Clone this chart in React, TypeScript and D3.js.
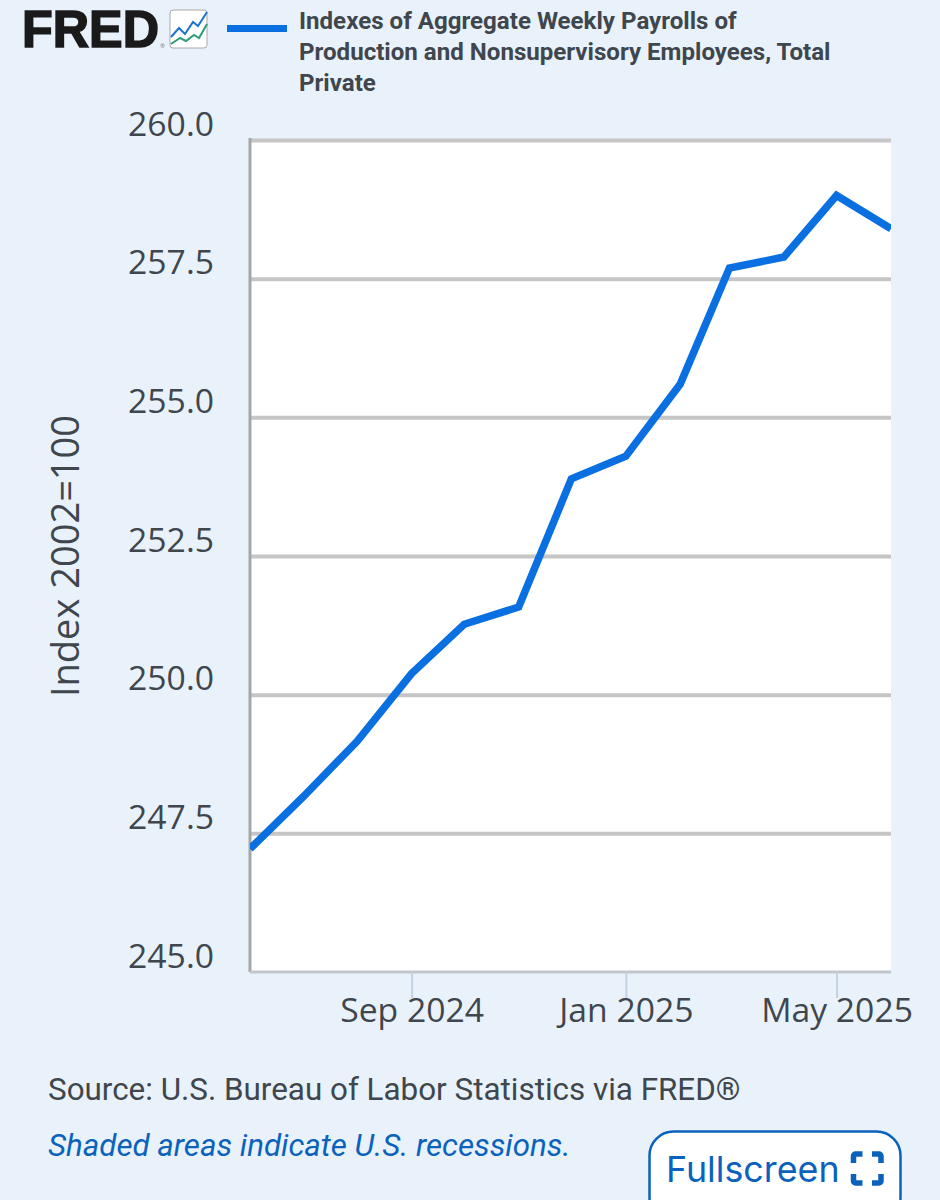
import React, { useRef, useEffect } from 'react';
import * as d3 from 'd3';

const months = [
  '2024-06-01', '2024-07-01', '2024-08-01', '2024-09-01', '2024-10-01', '2024-11-01', '2024-12-01',
  '2025-01-01', '2025-02-01', '2025-03-01', '2025-04-01', '2025-05-01', '2025-06-01',
];
const payrolls = [247.22, 248.15, 249.16, 250.38, 251.27, 251.58, 253.89, 254.3, 255.6, 257.69, 257.89, 259.0, 258.4];
const yTicks = [245, 247.5, 250, 252.5, 255, 257.5, 260];
const xTicks = ['2024-09-01', '2025-01-01', '2025-05-01'];
const legendLines = [
  'Indexes of Aggregate Weekly Payrolls of',
  'Production and Nonsupervisory Employees, Total',
  'Private',
];
// decorative logo icon lines
const iconBlue = [[1, 27], [9, 18], [15, 24], [23, 12], [28, 16], [37, 2]];
const iconGreen = [[1, 34], [10, 28], [16, 31], [24, 25], [29, 28], [37, 14]];

const parse = d3.utcParse('%Y-%m-%d');
const sans = '"Open Sans", sans-serif';
const roboto = 'Roboto, sans-serif';

const App: React.FC = () => {
  const svgRef = useRef<SVGSVGElement>(null);

  useEffect(() => {
    if (!svgRef.current) return;
    const svg = d3.select(svgRef.current);
    svg.selectAll('*').remove();

    const width = 940;
    const height = 1200;
    const margin = { top: 140, right: 49, bottom: 228, left: 250 };
    const innerWidth = width - margin.left - margin.right;
    const innerHeight = height - margin.top - margin.bottom;

    svg.append('rect').attr('width', width).attr('height', height).attr('fill', '#e9f2fa');

    const xScale = d3
      .scaleUtc()
      .domain([parse(months[0])!, parse(months[months.length - 1])!])
      .range([0, innerWidth]);
    const yScale = d3.scaleLinear().domain([245, 260]).range([innerHeight, 0]);

    // Logo
    svg
      .append('text')
      .attr('x', 22)
      .attr('y', 47)
      .attr('font-family', '"Liberation Sans", sans-serif')
      .attr('font-weight', 700)
      .attr('font-size', 51)
      .attr('textLength', 137)
      .attr('lengthAdjust', 'spacingAndGlyphs')
      .attr('fill', '#1a1a1a')
      .attr('stroke', '#1a1a1a')
      .attr('stroke-width', 1.6)
      .text('FRED');
    svg
      .append('text')
      .attr('x', 160)
      .attr('y', 48)
      .attr('font-family', sans)
      .attr('font-size', 6)
      .attr('fill', '#777777')
      .text('®');

    const icon = svg.append('g').attr('transform', 'translate(170,10)');
    icon
      .append('rect')
      .attr('width', 37)
      .attr('height', 38)
      .attr('rx', 3)
      .attr('fill', '#ffffff')
      .attr('stroke', '#aaaaaa')
      .attr('stroke-width', 1);
    const iconLine = d3.line();
    icon
      .append('path')
      .attr('d', iconLine(iconGreen as [number, number][]))
      .attr('fill', 'none')
      .attr('stroke', '#2e9e78')
      .attr('stroke-width', 2);
    icon
      .append('path')
      .attr('d', iconLine(iconBlue as [number, number][]))
      .attr('fill', 'none')
      .attr('stroke', '#1a73d0')
      .attr('stroke-width', 2);

    // Legend
    svg
      .append('rect')
      .attr('x', 227)
      .attr('y', 25)
      .attr('width', 60)
      .attr('height', 7)
      .attr('fill', '#0a6fe0');
    svg
      .append('g')
      .selectAll('text')
      .data(legendLines)
      .enter()
      .append('text')
      .attr('x', 299)
      .attr('y', (_, i) => 29 + i * 31)
      .attr('font-family', roboto)
      .attr('font-weight', 700)
      .attr('font-size', 24.1)
      .attr('fill', '#40464d')
      .text((d) => d);

    const plot = svg.append('g').attr('transform', `translate(${margin.left},${margin.top})`);

    plot.append('rect').attr('width', innerWidth).attr('height', innerHeight).attr('fill', '#ffffff');

    // Y grid
    const yAxis = plot
      .append('g')
      .call(
        d3
          .axisLeft(yScale)
          .tickValues(yTicks)
          .tickSize(-innerWidth)
          .tickPadding(36)
          .tickFormat((d) => d3.format('.1f')(d as number))
      )
      .call((g) => g.select('.domain').remove());
    yAxis
      .selectAll('line')
      .attr('stroke', '#c6c6c6')
      .attr('stroke-width', 4)
      .attr('stroke-opacity', (d) => (d === 245 ? 0 : 1));
    yAxis
      .selectAll('text')
      .attr('font-family', sans)
      .attr('font-size', 33.7)
      .attr('fill', '#40464d')
      .attr('dy', '-0.14em');

    // Left and bottom border
    plot
      .append('line')
      .attr('x1', 0)
      .attr('x2', 0)
      .attr('y1', -2)
      .attr('y2', innerHeight)
      .attr('stroke', '#a6a6a6')
      .attr('stroke-width', 3);
    plot
      .append('line')
      .attr('x1', 0)
      .attr('x2', innerWidth)
      .attr('y1', innerHeight)
      .attr('y2', innerHeight)
      .attr('stroke', '#c2c6cc')
      .attr('stroke-width', 3);

    // X axis
    const xAxis = plot
      .append('g')
      .attr('transform', `translate(0,${innerHeight})`)
      .call(
        d3
          .axisBottom(xScale)
          .tickValues(xTicks.map((d) => parse(d)!))
          .tickSize(26)
          .tickPadding(0)
          .tickFormat((d) => d3.utcFormat('%b %Y')(d as Date))
      )
      .call((g) => g.select('.domain').remove());
    xAxis.selectAll('line').attr('stroke', '#c5d0e0').attr('stroke-width', 2);
    xAxis
      .selectAll('text')
      .attr('font-family', sans)
      .attr('font-size', 33.7)
      .attr('fill', '#40464d');

    // Y label
    svg
      .append('text')
      .attr('transform', 'rotate(-90)')
      .attr('x', -556)
      .attr('y', 79)
      .attr('text-anchor', 'middle')
      .attr('font-family', sans)
      .attr('font-size', 38)
      .attr('fill', '#40464d')
      .text('Index 2002=100');

    // Series
    const line = d3
      .line<number>()
      .x((_, i) => xScale(parse(months[i])!))
      .y((d) => yScale(d));
    const clipId = 'plot-clip';
    svg
      .append('clipPath')
      .attr('id', clipId)
      .append('rect')
      .attr('width', innerWidth)
      .attr('height', innerHeight);
    plot
      .append('path')
      .datum(payrolls)
      .attr('clip-path', `url(#${clipId})`)
      .attr('fill', 'none')
      .attr('stroke', '#0a6fe0')
      .attr('stroke-width', 7.5)
      .attr('stroke-linejoin', 'miter')
      .attr('d', line);

    // Footer
    svg
      .append('text')
      .attr('x', 48)
      .attr('y', 1100)
      .attr('font-family', roboto)
      .attr('font-size', 31.4)
      .attr('fill', '#40464d')
      .text('Source: U.S. Bureau of Labor Statistics via FRED®');
    svg
      .append('text')
      .attr('x', 48)
      .attr('y', 1156)
      .attr('font-family', roboto)
      .attr('font-style', 'italic')
      .attr('font-size', 31.3)
      .attr('fill', '#0b62bd')
      .text('Shaded areas indicate U.S. recessions.');

    // Fullscreen button
    svg
      .append('rect')
      .attr('x', 649.5)
      .attr('y', 1131.5)
      .attr('width', 251)
      .attr('height', 90)
      .attr('rx', 24)
      .attr('fill', '#ffffff')
      .attr('stroke', '#0b62bd')
      .attr('stroke-width', 2.5);
    svg
      .append('text')
      .attr('x', 666)
      .attr('y', 1182)
      .attr('font-family', 'Inter, sans-serif')
      .attr('font-size', 35.8)
      .attr('fill', '#0b62bd')
      .text('Fullscreen');
    const corners = [
      'M853.5,1163 v-7 a2,2 0 0 1 2,-2 h7',
      'M872,1154 h7 a2,2 0 0 1 2,2 v7',
      'M881,1174 v7 a2,2 0 0 1 -2,2 h-7',
      'M862.5,1183 h-7 a2,2 0 0 1 -2,-2 v-7',
    ];
    svg
      .append('g')
      .selectAll('path')
      .data(corners)
      .enter()
      .append('path')
      .attr('d', (d) => d)
      .attr('fill', 'none')
      .attr('stroke', '#0b62bd')
      .attr('stroke-width', 5.5);
  }, []);

  return (
    <svg
      ref={svgRef}
      width={940}
      height={1200}
      style={{ position: 'absolute', left: 0, top: 0, display: 'block' }}
    ></svg>
  );
};

export default App;
